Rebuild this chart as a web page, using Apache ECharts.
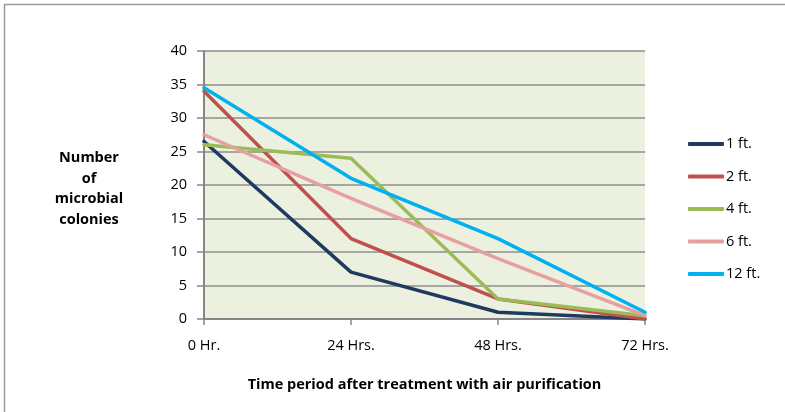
<!DOCTYPE html>
<html><head><meta charset="utf-8">
<script src="https://cdn.jsdelivr.net/npm/echarts@6/dist/echarts.min.js"></script>
<style>html,body{margin:0;padding:0;background:#fff}#c{width:785px;height:412px}</style>
</head><body><div id="c"></div>
<script>
const categories = ['0 Hr.', '24 Hrs.', '48 Hrs.', '72 Hrs.'];
const yTicks = [0, 5, 10, 15, 20, 25, 30, 35, 40];
const s1ft = [26.5, 7, 1, 0];
const s2ft = [34, 12, 3, 0];
const s4ft = [26, 24, 3, 0.5];
const s6ft = [27.5, 18, 9, 0.5];
const s12ft = [34.5, 21, 12, 1];
const seriesNames = ['1 ft.', '2 ft.', '4 ft.', '6 ft.', '12 ft.'];
const colors = ['#1F3A60', '#C0504D', '#9BBB59', '#E6A0A0', '#00B0F0'];

const font = '"Open Sans", sans-serif';
const chart = echarts.init(document.getElementById('c'), null, {renderer: 'canvas'});
const data = [s1ft, s2ft, s4ft, s6ft, s12ft];
chart.setOption({
  animation: false,
  textStyle: {fontFamily: font},
  grid: {left: 204, top: 51, right: 140, bottom: 93, show: true, backgroundColor: '#EBF1DE', borderWidth: 0},
  legend: {
    orient: 'vertical', left: 688, top: 136, padding: 0, itemWidth: 36, itemHeight: 4, itemGap: 16.5,
    icon: 'roundRect',
    textStyle: {fontFamily: font, fontSize: 14.5, color: '#000', lineHeight: 16, padding: [0, 0, 0, -3]},
    data: seriesNames
  },
  xAxis: {
    type: 'category', data: categories, boundaryGap: false,
    axisLine: {lineStyle: {color: '#868686', width: 2}},
    axisTick: {show: true, length: 6, lineStyle: {color: '#868686', width: 1.5}},
    axisLabel: {fontFamily: font, fontSize: 14.5, color: '#000', margin: 19},
    name: 'Time period after treatment with air purification', nameLocation: 'middle', nameGap: 58,
    nameTextStyle: {fontFamily: font, fontSize: 14.5, fontWeight: 'bold', color: '#000'}
  },
  yAxis: {
    type: 'value', min: 0, max: 40, interval: 5,
    axisLine: {show: true, lineStyle: {color: '#868686', width: 2}},
    axisTick: {show: true, length: 7, lineStyle: {color: '#868686', width: 1.5}},
    splitLine: {lineStyle: {color: '#8c8c8c', width: 1.5}},
    axisLabel: {fontFamily: font, fontSize: 14.5, color: '#000', margin: 17,
      formatter: v => yTicks.includes(v) ? String(v) : ''}
  },
  series: data.map((d, i) => ({
    name: seriesNames[i], type: 'line', data: d, showSymbol: false, symbol: 'none',
    lineStyle: {color: colors[i], width: 3.5, cap: 'round', join: 'round'},
    itemStyle: {color: colors[i]}
  })),
  graphic: [
    {type: 'rect', shape: {x: 4.5, y: 4.5, width: 820, height: 440}, style: {fill: 'none', stroke: '#9a9a9a', lineWidth: 1.5}, z: -10},
    {type: 'text', x: 89, y: 148, style: {text: 'Number\nof\nmicrobial\ncolonies', fill: '#000', font: 'bold 14.5px "Open Sans", sans-serif', lineHeight: 20.5, align: 'center', verticalAlign: 'top'}}
  ]
});
</script></body></html>
